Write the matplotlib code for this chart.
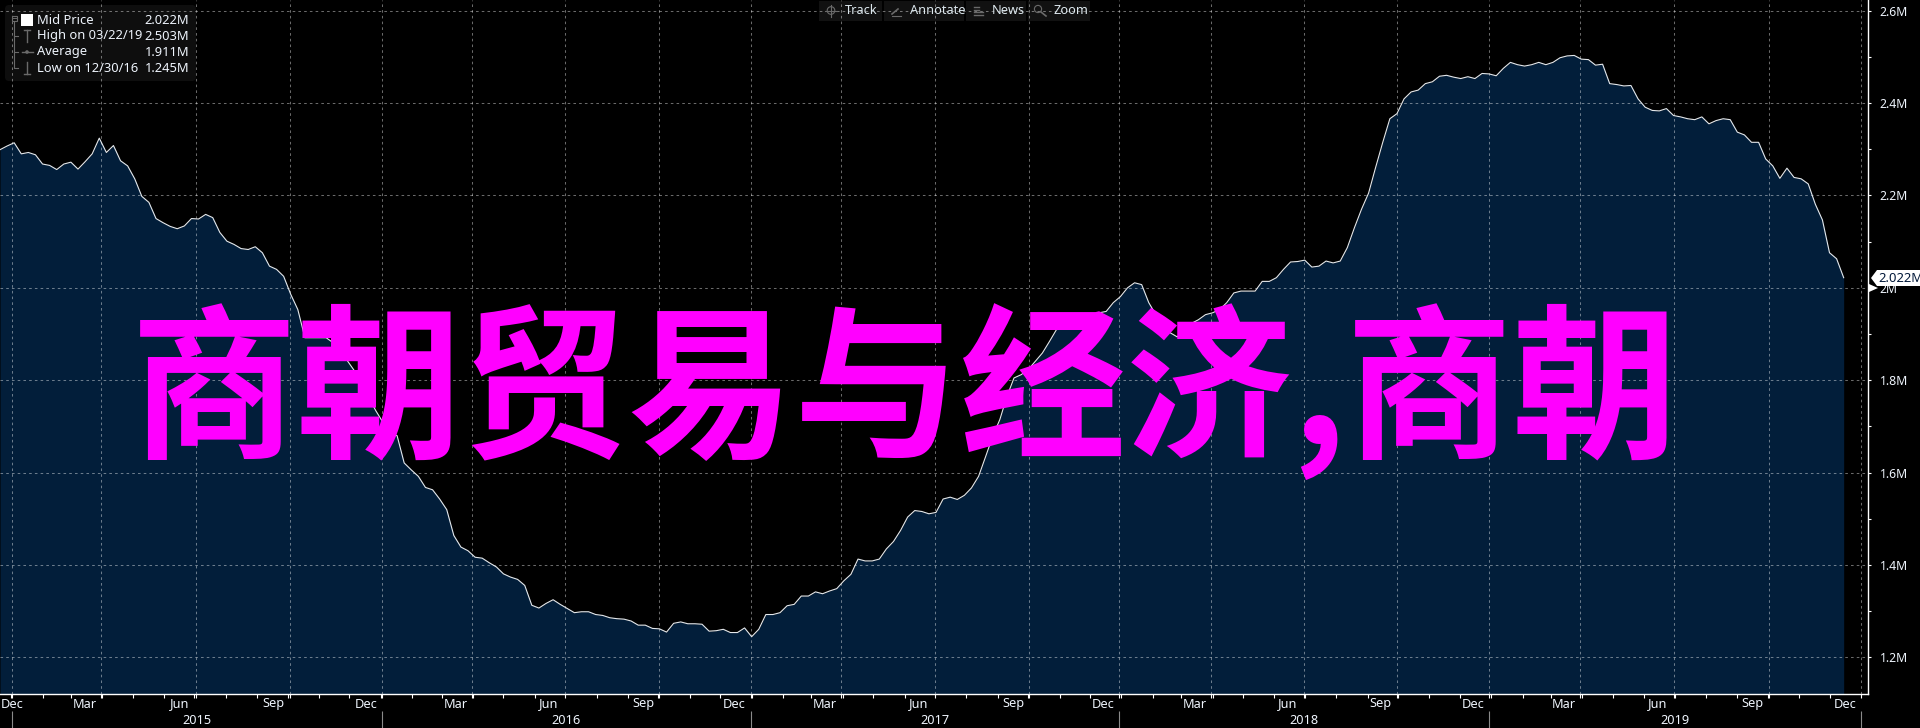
import matplotlib
matplotlib.use("Agg")
import matplotlib.pyplot as plt
from matplotlib.patches import FancyBboxPatch, Polygon, Rectangle, Circle
import pandas as pd

mid_price = [
 2.299,2.307,2.314,2.290,2.293,2.288,2.268,2.265,2.256,2.268,
 2.272,2.257,2.273,2.290,2.324,2.293,2.308,2.275,2.264,2.236,
 2.198,2.185,2.150,2.141,2.133,2.128,2.134,2.150,2.149,2.159,
 2.152,2.120,2.101,2.094,2.085,2.083,2.089,2.076,2.047,2.040,
 2.025,1.986,1.953,1.892,1.892,1.892,1.892,1.881,1.860,1.842,
 1.820,1.791,1.763,1.734,1.709,1.687,1.680,1.621,1.606,1.592,
 1.568,1.563,1.543,1.520,1.464,1.439,1.431,1.417,1.415,1.405,
 1.396,1.381,1.374,1.369,1.356,1.313,1.307,1.317,1.325,1.315,
 1.306,1.297,1.299,1.299,1.293,1.291,1.286,1.284,1.283,1.279,
 1.270,1.270,1.263,1.262,1.255,1.274,1.277,1.273,1.273,1.272,
 1.257,1.258,1.261,1.254,1.254,1.264,1.245,1.261,1.293,1.293,
 1.297,1.312,1.315,1.333,1.333,1.342,1.338,1.344,1.349,1.366,
 1.380,1.413,1.409,1.409,1.413,1.435,1.451,1.475,1.504,1.518,
 1.516,1.511,1.514,1.543,1.547,1.542,1.551,1.567,1.592,1.635,
 1.679,1.715,1.765,1.805,1.812,1.823,1.841,1.859,1.884,1.910,
 1.910,1.910,1.911,1.928,1.935,1.946,1.949,1.968,1.981,2.000,
 2.011,2.007,1.968,1.942,1.928,1.903,1.894,1.906,1.923,1.931,
 1.942,1.946,1.953,1.968,1.989,1.993,1.993,1.993,2.014,2.014,
 2.022,2.040,2.056,2.057,2.060,2.045,2.047,2.058,2.054,2.058,
 2.087,2.130,2.170,2.205,2.261,2.315,2.366,2.377,2.409,2.424,
 2.428,2.442,2.446,2.458,2.460,2.456,2.453,2.457,2.453,2.464,
 2.463,2.459,2.475,2.488,2.483,2.480,2.483,2.488,2.483,2.488,
 2.498,2.502,2.503,2.495,2.494,2.482,2.484,2.442,2.440,2.437,
 2.438,2.409,2.391,2.384,2.383,2.388,2.373,2.370,2.366,2.364,
 2.370,2.355,2.362,2.366,2.364,2.337,2.331,2.315,2.315,2.279,
 2.264,2.237,2.259,2.239,2.236,2.225,2.181,2.147,2.076,2.063,
 2.022,
]
start_date = "2014-12-19"
quarter_dates = ["2014-12-31","2015-03-29","2015-06-30","2015-10-01","2015-12-31",
                 "2016-03-29","2016-06-29","2016-09-30","2016-12-29","2017-03-28",
                 "2017-06-29","2017-09-30","2017-12-28","2018-03-28","2018-06-28",
                 "2018-09-28","2018-12-28","2019-03-28","2019-06-28","2019-09-30",
                 "2019-12-30"]
quarter_labels = ["Dec","Mar","Jun","Sep"] * 5 + ["Dec"]
years = ["2015","2016","2017","2018","2019"]
y_ticks = [1.2,1.4,1.6,1.8,2.0,2.2,2.4,2.6]
y_labels = ["1.2M","1.4M","1.6M","1.8M","2M","2.2M","2.4M","2.6M"]
legend_names = ["Mid Price","High on 03/22/19","Average","Low on 12/30/16"]
legend_values = ["2.022M","2.503M","1.911M","1.245M"]
toolbar = ["Track","Annotate","News","Zoom"]
title = "商朝贸易与经济,商朝"

W, H = 1920, 728
TXT = "#EEF4FC"
plt.rcParams["font.family"] = ["Noto Sans", "DejaVu Sans"]
fig = plt.figure(figsize=(W/100, H/100), dpi=100, facecolor="black")
ax = fig.add_axes([0, (H-694)/H, 1868/W, 694/H], facecolor="black")

dates = pd.date_range(start_date, periods=len(mid_price), freq="7D")
qd = pd.to_datetime(quarter_dates)
ax.fill_between(dates, mid_price, 1.0, color="#021E3A", lw=0, zorder=1)
ax.plot(dates, mid_price, color="#E4E8EC", lw=0.8, zorder=3)

ax.set_xlim(pd.Timestamp("2014-12-19"), pd.Timestamp("2020-01-06"))
ax.set_ylim(1.121, 2.623)
for s in ("left", "top"):
    ax.spines[s].set_visible(False)
for s in ("right", "bottom"):
    ax.spines[s].set_color("white")
    ax.spines[s].set_linewidth(1.0)

ax.yaxis.tick_right()
ax.set_yticks(y_ticks, y_labels, color=TXT, fontsize=8.8)
ax.set_yticks([1.3,1.5,1.7,1.9,2.1,2.3,2.5], minor=True)
ax.tick_params(axis="y", which="both", direction="out", length=2.4, width=0.8,
               color="white", pad=6)
ax.set_xticks(qd)
ax.set_xticklabels([])
months = pd.date_range("2014-12-31", "2019-12-31", freq="ME") - pd.Timedelta(days=1)
ax.set_xticks(months, minor=True)
ax.tick_params(axis="x", which="both", direction="out", length=2.6, width=0.8, color="white")

ax.grid(True, which="major", color="white", alpha=0.42, lw=0.75, ls=(0, (2.5, 3)), zorder=2)
ax.set_axisbelow(False)
for ln in ax.get_xgridlines() + ax.get_ygridlines():
    ln.set_zorder(2)

xt = ax.get_xaxis_transform()
for i, (d, lab) in enumerate(zip(qd, quarter_labels)):
    pos = d - pd.Timedelta(days=16)
    if i == 0:
        pos = d
    ax.text(pos, -10/694, lab, transform=xt, ha="center", va="center",
            color=TXT, fontsize=9.2, clip_on=False)
year_edges = qd[::4]
ax.vlines(year_edges, -17/694, -34/694, transform=xt, color="#8A8A8A", lw=0.8, clip_on=False)
for a, b, y in zip(year_edges[:-1], year_edges[1:], years):
    ax.text(a + (b - a)/2, -26/694, y, transform=xt, ha="center", va="center",
            color=TXT, fontsize=9.2, clip_on=False)

ov = fig.add_axes([0, 0, 1, 1], facecolor="none", zorder=5)
ov.set_xlim(0, W)
ov.set_ylim(H, 0)
ov.axis("off")

# legend panel
ov.add_patch(FancyBboxPatch((5, 5), 191, 76, boxstyle="round,pad=0,rounding_size=4",
                            fc="white", alpha=0.06, lw=0))
rows = [20, 36, 52, 68]
for y, n, v in zip(rows, legend_names, legend_values):
    ov.text(37, y, n, color=TXT, fontsize=9.3, va="center", ha="left")
    ov.text(189, y, v, color=TXT, fontsize=9.3, va="center", ha="right")
gray = "#6A6A6A"
ov.add_patch(Rectangle((11.5, 15.5), 5.5, 5.5, fc="none", ec=gray, lw=0.8))
ov.plot([12, 16.5], [18.2, 18.2], color=gray, lw=0.7)
ov.plot([14.2, 14.2, 18], [22, 68, 68], color=gray, lw=0.8)
for y in (36, 52):
    ov.plot([14.2, 18], [y, y], color=gray, lw=0.8)
ov.add_patch(Rectangle((21, 14), 12, 12, fc="white", lw=0))
ov.plot([24, 30], [30, 30], color=gray, lw=1)
ov.plot([27, 27], [30, 42], color=gray, lw=1)
ov.plot([24, 30], [74, 74], color=gray, lw=1)
ov.plot([27, 27], [62, 74], color=gray, lw=1)
ov.plot([22, 33], [52, 52], color=gray, lw=1)
ov.add_patch(Circle((27, 52), 1.8, fc=gray, lw=0))

# toolbar
boxes = [(819, 63), (884, 80), (966, 60), (1028, 62)]
text_x = [845, 910, 992, 1054]
for (x, w), tx, t in zip(boxes, text_x, toolbar):
    ov.add_patch(Rectangle((x, 1), w, 20, fc="white", alpha=0.07, lw=0))
    ov.text(tx, 10.5, t, color="#DDE8EE", fontsize=9.2, va="center", ha="left")
ov.add_patch(Circle((831, 10.5), 3.8, fc="none", ec=gray, lw=0.8))
ov.plot([825, 837], [10.5, 10.5], color=gray, lw=0.8)
ov.plot([831, 831], [4.5, 16.5], color=gray, lw=0.8)
ov.plot([892, 898], [14, 9], color=gray, lw=1.2)
ov.plot([892, 901], [15.5, 15.5], color=gray, lw=0.8)
for y, a, b in [(7, 974, 979), (9.5, 974, 979), (12, 974, 983), (14.5, 974, 983)]:
    ov.plot([a, b], [y, y], color=gray, lw=1)
ov.add_patch(Circle((1038, 9), 3.6, fc="none", ec=gray, lw=0.8))
ov.plot([1041, 1046], [12, 16], color=gray, lw=1.2)

# last price tag
ov.add_patch(Polygon([(1871, 278), (1877, 270), (1920, 270), (1920, 286), (1877, 286)],
                     fc="white", lw=0))
ov.add_patch(Polygon([(1869, 284), (1878, 288), (1869, 292)], fc="white", lw=0))
ov.text(1878, 278, legend_values[0], color="#02193A", fontsize=9.4, va="center", ha="left")

# overlay headline
ov.text(905, 392, title, color="#FF00FF", fontsize=119.5, fontweight="bold",
        family=["Noto Sans CJK SC", "DejaVu Sans"], ha="center", va="center")

fig.savefig("out.png", dpi=100, facecolor="black")
